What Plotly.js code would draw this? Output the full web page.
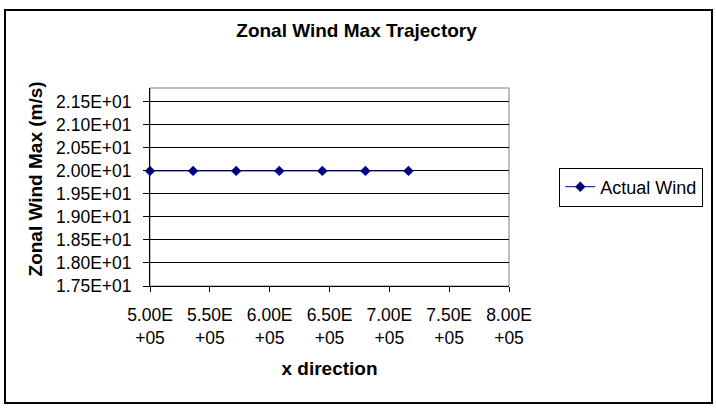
<!DOCTYPE html>
<html>
<head>
<meta charset="utf-8">
<script src="https://cdn.plot.ly/plotly-3.0.1.min.js"></script>
<style>
  html, body { margin: 0; padding: 0; background: #fff; }
  #wrap { position: relative; width: 716px; height: 410px; }
  #chart { position: absolute; left: 0; top: 0; width: 716px; height: 410px; }
  #frame { position: absolute; left: 4px; top: 9px; width: 705px; height: 391px; border: 2px solid #000; pointer-events: none; }
</style>
</head>
<body>
<div id="wrap">
  <div id="chart"></div>
  <div id="frame"></div>
</div>
<script>
// Data
const seriesName = "Actual Wind";
const xValues = [500000, 536000, 572000, 608000, 644000, 680000, 716000];
const windMax = [20, 20, 20, 20, 20, 20, 20];

// Axis ticks
const xTickVals = [500000, 550000, 600000, 650000, 700000, 750000, 800000];
const xTickText = ["5.00E<br>+05", "5.50E<br>+05", "6.00E<br>+05", "6.50E<br>+05", "7.00E<br>+05", "7.50E<br>+05", "8.00E<br>+05"];
const yTickVals = [17.5, 18.0, 18.5, 19.0, 19.5, 20.0, 20.5, 21.0, 21.5];
const yTickText = ["1.75E+01", "1.80E+01", "1.85E+01", "1.90E+01", "1.95E+01", "2.00E+01", "2.05E+01", "2.10E+01", "2.15E+01"];

const FONT = "Liberation Sans, Arial, sans-serif";

const trace = {
  type: "scatter",
  mode: "lines+markers",
  name: seriesName,
  x: xValues,
  y: windMax,
  cliponaxis: false,
  line: { color: "#000080", width: 1 },
  marker: { symbol: "diamond", size: 8, color: "#000080" }
};

const layout = {
  width: 716,
  height: 410,
  paper_bgcolor: "#ffffff",
  plot_bgcolor: "#ffffff",
  margin: { l: 150, r: 207, t: 88, b: 124, pad: 0 },
  font: { family: FONT, color: "#000", size: 17 },
  title: {
    text: "<b>Zonal Wind Max Trajectory</b>",
    font: { family: FONT, size: 19, color: "#000" },
    x: 0.498, xref: "container", xanchor: "center",
    y: 1 - 30 / 410, yref: "container", yanchor: "middle"
  },
  showlegend: true,
  legend: {
    x: 1.14, xanchor: "left",
    y: 0.5, yanchor: "middle",
    bgcolor: "#ffffff",
    bordercolor: "#000",
    borderwidth: 1,
    tracegroupgap: 0,
    font: { family: FONT, size: 18, color: "#000" }
  },
  xaxis: {
    range: [500000, 800000],
    tickmode: "array",
    tickvals: xTickVals,
    ticktext: xTickText,
    ticks: "outside",
    ticklen: 5,
    tickcolor: "#000",
    tickwidth: 1,
    showline: true,
    linecolor: "#000",
    linewidth: 1,
    showgrid: false,
    zeroline: false,
    ticklabelstandoff: 8,
    tickfont: { family: FONT, size: 17.5, color: "#000" },
    title: {
      text: "<b>x direction</b>",
      font: { family: FONT, size: 19, color: "#000" },
      standoff: 14
    }
  },
  yaxis: {
    range: [17.5, 21.8],
    tickmode: "array",
    tickvals: yTickVals,
    ticktext: yTickText,
    ticks: "outside",
    ticklen: 6,
    tickcolor: "#000",
    tickwidth: 1,
    showline: true,
    linecolor: "#000",
    linewidth: 1,
    showgrid: true,
    gridcolor: "#000",
    gridwidth: 1,
    zeroline: false,
    ticklabelstandoff: 8,
    tickfont: { family: FONT, size: 17.5, color: "#000" }
  },
  annotations: [{
    text: "<b>Zonal Wind Max (m/s)</b>",
    textangle: -90,
    xref: "paper", yref: "paper",
    x: (35 - 150) / 359, y: 0.538,
    xanchor: "center", yanchor: "middle",
    showarrow: false,
    font: { family: FONT, size: 19, color: "#000" }
  }],
  shapes: [{
    type: "rect", xref: "paper", yref: "paper",
    x0: 0, x1: 1, y0: 0, y1: 1,
    line: { color: "#808080", width: 1 },
    layer: "below"
  }]
};

Plotly.newPlot("chart", [trace], layout, { displayModeBar: false, staticPlot: true });
</script>
</body>
</html>
